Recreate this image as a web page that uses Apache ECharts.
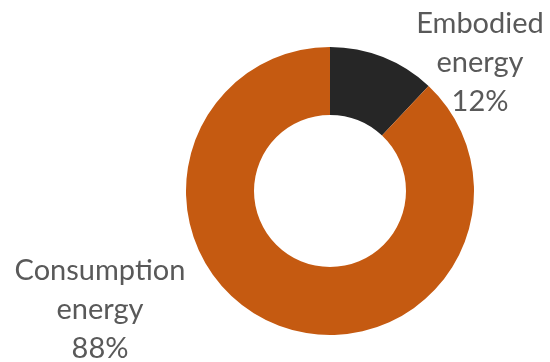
<!DOCTYPE html>
<html>
<head>
<meta charset="utf-8">
<script src="https://cdn.jsdelivr.net/npm/echarts@6/dist/echarts.min.js"></script>
<style>
  html, body { margin: 0; padding: 0; background: #ffffff; }
  #chart { width: 550px; height: 362px; }
</style>
</head>
<body>
<div id="chart"></div>
<script>
// Energy split of a building's life cycle
const categories = ['Embodied\nenergy', 'Consumption\nenergy'];
const shares = [12, 88];
const sliceColors = ['#262626', '#C55A11'];

// Where each label block is centred
const labelSpots = [
  { x: 480, y: 63 },
  { x: 100, y: 310 }
];

const chart = echarts.init(document.getElementById('chart'), null, { renderer: 'canvas' });

chart.setOption({
  animation: false,
  backgroundColor: '#ffffff',
  series: [{
    type: 'pie',
    center: [330, 191],
    radius: [76, 144],
    startAngle: 90,
    clockwise: true,
    avoidLabelOverlap: false,
    data: categories.map((name, i) => ({
      name: name,
      value: shares[i],
      itemStyle: { color: sliceColors[i] }
    })),
    label: {
      show: true,
      position: 'outside',
      formatter: p => p.name + '\n' + p.value + '%',
      fontFamily: 'Lato',
      fontSize: 29,
      lineHeight: 39,
      color: '#595959',
      align: 'center'
    },
    labelLine: { show: false },
    labelLayout: p => ({
      x: labelSpots[p.dataIndex].x,
      y: labelSpots[p.dataIndex].y,
      align: 'center',
      verticalAlign: 'middle'
    })
  }]
});
</script>
</body>
</html>
